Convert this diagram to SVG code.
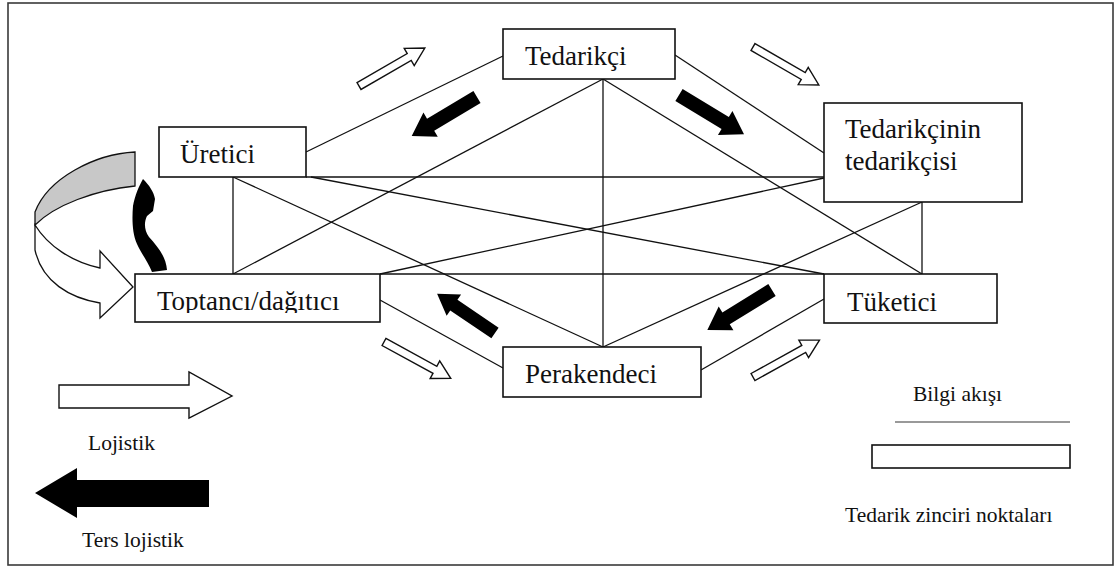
<svg xmlns="http://www.w3.org/2000/svg" xmlns:xlink="http://www.w3.org/1999/xlink" width="1118" height="569" viewBox="0 0 1118 569">
  <style>
    .frame { fill: #ffffff; stroke: #3a3a3a; stroke-width: 1.6; }
    .box { fill: #ffffff; stroke: #111111; stroke-width: 1.6; }
    .link { stroke: #111111; stroke-width: 1.3; fill: none; }
    .lbl { font-family: "Liberation Serif", "Times New Roman", serif; font-size: 27px; fill: #111111; }
    .leg { font-family: "Liberation Serif", "Times New Roman", serif; font-size: 21.5px; fill: #111111; }
    .open { fill: #ffffff; stroke: #111111; stroke-width: 1.4; stroke-linejoin: miter; }
    .solid { fill: #000000; stroke: none; }
  </style>
  <defs>
    <!-- logistics arrow (outlined), pointing along +x from the origin -->
    <path id="openArrow" d="M0,-4 L58,-4 L58,-10 L76,0 L58,10 L58,4 L0,4 Z"/>
    <!-- reverse logistics arrow (filled), pointing along +x from the origin -->
    <path id="solidArrow" d="M0,-7 L54,-7 L54,-14 L76,0 L54,14 L54,7 L0,7 Z"/>
    <clipPath id="toptanciClip">
      <rect x="136" y="275" width="243" height="38"/>
    </clipPath>
  </defs>

  <rect class="frame" x="8" y="3" width="1105" height="562"/>

  <!-- information-flow network between supply chain points -->
  <g id="connectors">
    <line class="link" x1="306" y1="152" x2="503" y2="56"/>
    <line class="link" x1="675" y1="55" x2="824" y2="153"/>
    <line class="link" x1="306" y1="177" x2="824" y2="177"/>
    <line class="link" x1="380" y1="274" x2="824" y2="274"/>
    <line class="link" x1="233" y1="177" x2="233" y2="274"/>
    <line class="link" x1="922" y1="202" x2="922" y2="274"/>
    <line class="link" x1="603" y1="79" x2="603" y2="347"/>
    <line class="link" x1="603" y1="79" x2="233" y2="274"/>
    <line class="link" x1="603" y1="79" x2="922" y2="274"/>
    <line class="link" x1="233" y1="177" x2="603" y2="347"/>
    <line class="link" x1="311" y1="177" x2="824" y2="274"/>
    <line class="link" x1="380" y1="274" x2="824" y2="178"/>
    <line class="link" x1="603" y1="347" x2="922" y2="202"/>
    <line class="link" x1="380" y1="300" x2="503" y2="368"/>
    <line class="link" x1="701" y1="370" x2="824" y2="299"/>
  </g>

  <g id="tedarikci">
    <rect class="box" x="503" y="29" width="172" height="50"/>
    <text class="lbl" x="525" y="65">Tedarikçi</text>
  </g>
  <g id="uretici">
    <rect class="box" x="159" y="127" width="147" height="50"/>
    <text class="lbl" x="180" y="163">Üretici</text>
  </g>
  <g id="tedarikcinin-tedarikcisi">
    <rect class="box" x="824" y="103" width="198" height="99"/>
    <text class="lbl" x="845" y="138">Tedarikçinin</text>
    <text class="lbl" x="845" y="170">tedarikçisi</text>
  </g>
  <g id="toptanci">
    <rect class="box" x="135" y="274" width="245" height="48"/>
    <text class="lbl" x="157" y="310" clip-path="url(#toptanciClip)">Toptancı/dağıtıcı</text>
  </g>
  <g id="tuketici">
    <rect class="box" x="824" y="274" width="173" height="49"/>
    <text class="lbl" x="847" y="311">Tüketici</text>
  </g>
  <g id="perakendeci">
    <rect class="box" x="503" y="347" width="198" height="50"/>
    <text class="lbl" x="525" y="383">Perakendeci</text>
  </g>

  <!-- logistics flow arrows -->
  <g id="logistics-arrows">
    <use xlink:href="#openArrow" class="open" transform="translate(359,86) rotate(-30)"/>
    <use xlink:href="#openArrow" class="open" transform="translate(753,47) rotate(30)"/>
    <use xlink:href="#openArrow" class="open" transform="translate(384,342) rotate(28.6)"/>
    <use xlink:href="#openArrow" class="open" transform="translate(753,377) rotate(-29)"/>
  </g>

  <!-- reverse logistics arrows -->
  <g id="reverse-arrows">
    <use xlink:href="#solidArrow" class="solid" transform="translate(477,97) rotate(149.2)"/>
    <use xlink:href="#solidArrow" class="solid" transform="translate(679,95) rotate(31.2)"/>
    <use xlink:href="#solidArrow" class="solid" transform="translate(495,333) rotate(-145.9) scale(0.92)"/>
    <use xlink:href="#solidArrow" class="solid" transform="translate(772,290) rotate(148.3)"/>
  </g>

  <!-- loop between producer and wholesaler -->
  <g id="loop-arrow">
    <path d="M135,152 C95,154 48,178 35,212 L35,225 C55,205 95,190 135,186 Z" fill="#c8c8c8" stroke="#111111" stroke-width="1.3"/>
    <path d="M35,225 C48,246 72,262 100,268 L100,251 L133,287 L100,318 L100,303 C70,298 42,282 35,250 Z" fill="#ffffff" stroke="#111111" stroke-width="1.3" stroke-linejoin="miter"/>
    <path d="M143,179 C149,185 154,192 155,199 L153,211 L147,216 C144,222 144,230 149,237 C157,246 166,256 167,270 L152,272 C148,262 141,253 137,244 C132,233 132,218 133,206 C135,195 139,186 143,179 Z" fill="#000000"/>
  </g>

  <!-- legend -->
  <g id="legend">
    <path class="open" d="M59,385 L189,385 L189,372 L232,396 L189,418 L189,408 L59,408 Z"/>
    <text class="leg" x="88" y="450">Lojistik</text>
    <path class="solid" d="M35,493 L77,468 L77,480 L209,480 L209,507 L77,507 L77,518 Z"/>
    <text class="leg" x="82" y="547">Ters lojistik</text>
    <text class="leg" x="913" y="401">Bilgi akışı</text>
    <line x1="895" y1="422" x2="1070" y2="422" stroke="#777777" stroke-width="1.5"/>
    <rect x="872" y="445" width="198" height="23" fill="#ffffff" stroke="#111111" stroke-width="1.6"/>
    <text class="leg" x="845" y="522">Tedarik zinciri noktaları</text>
  </g>
</svg>
